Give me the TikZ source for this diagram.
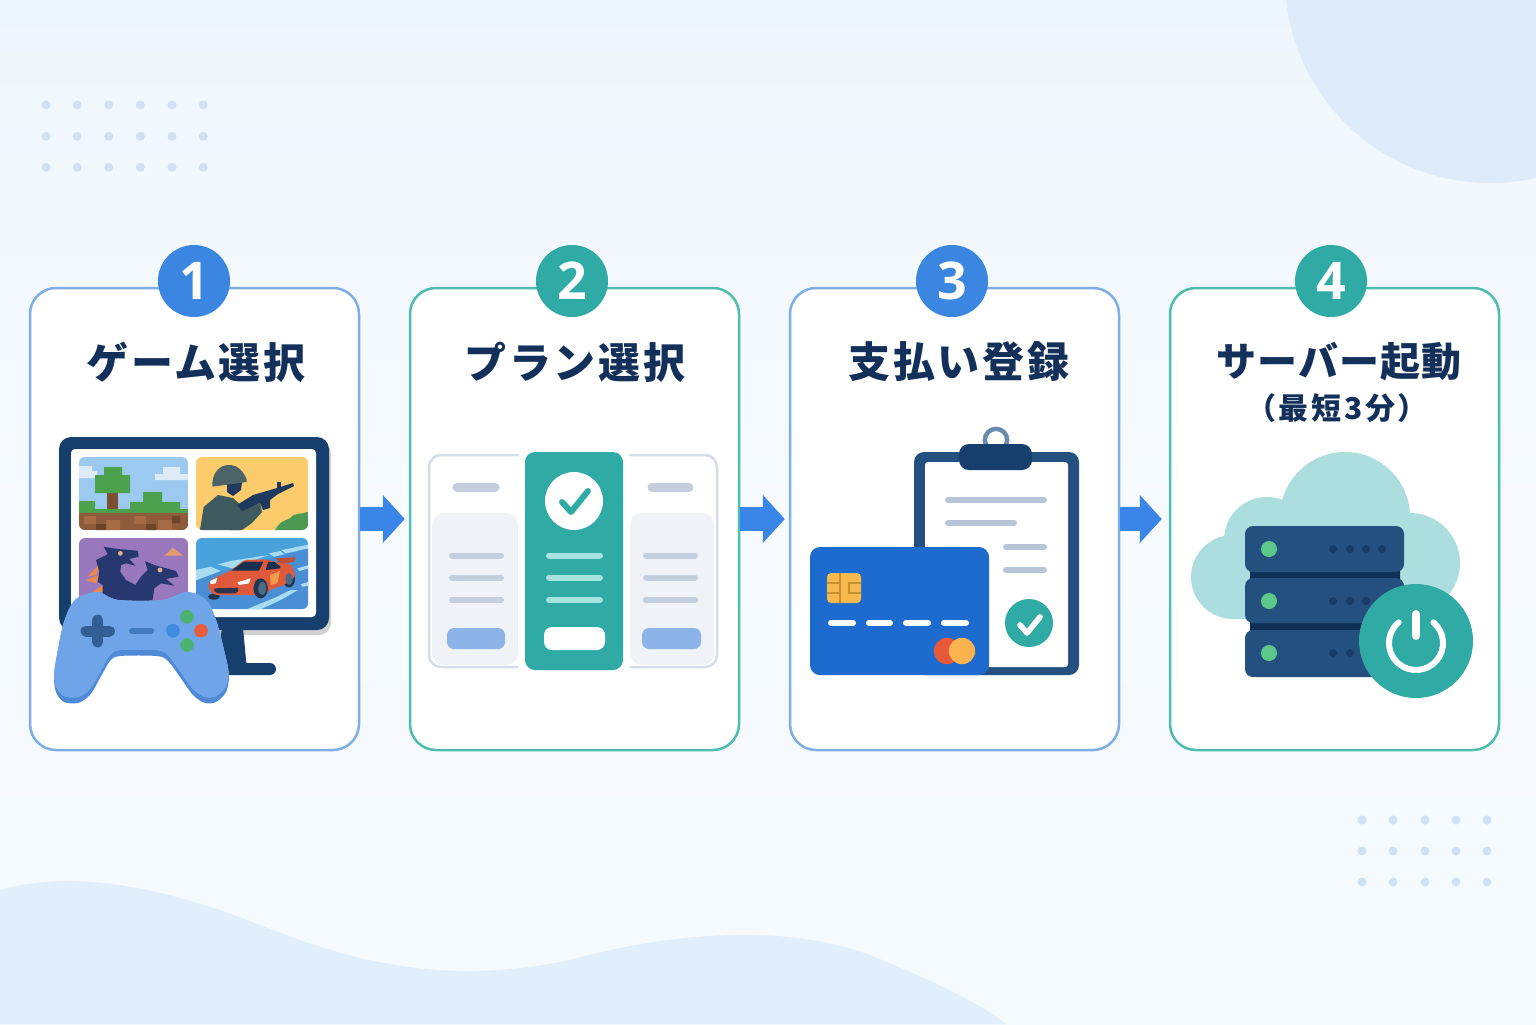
\documentclass[tikz,border=0pt]{standalone}
\usepackage{fontspec}
\setmainfont{Noto Sans CJK JP}
\newfontfamily\digitfont{Open Sans}
\usetikzlibrary{arrows.meta,calc}
\definecolor{bgtop}{HTML}{EEF6FD}
\definecolor{bgmid}{HTML}{F7FBFF}
\definecolor{blob}{HTML}{DDEBFA}
\definecolor{wave}{HTML}{E1EEFB}
\definecolor{speck}{HTML}{CFE1F5}
\definecolor{ink}{HTML}{12305A}
\definecolor{edgeblue}{HTML}{7FAEE6}
\definecolor{edgeteal}{HTML}{4DBDB0}
\definecolor{badgeblue}{HTML}{3B86E0}
\definecolor{badgeteal}{HTML}{2FAAA4}
\definecolor{arrowblue}{HTML}{3A86E8}
\definecolor{navy}{HTML}{173F6E}
\definecolor{slate}{HTML}{24507F}
\definecolor{padlight}{HTML}{6FA5E8}
\definecolor{paddark}{HTML}{4F8AD6}
\definecolor{padhigh}{HTML}{8DBBEF}
\definecolor{mute}{HTML}{C3CFDE}
\definecolor{mutefill}{HTML}{EFF3F8}
\definecolor{softblue}{HTML}{8DB4E8}
\definecolor{cardblue}{HTML}{1E6BD0}
\definecolor{mint}{HTML}{A6E3DE}
\tikzset{
  x=0.5pt,y=-0.5pt,
  hex/.code={\definecolor{hexc}{HTML}{#1}\pgfkeysalso{/tikz/color=hexc}},
  card/.style={draw=#1,fill=white,line width=1.25pt,rounded corners=13pt,
    minimum width=164.5pt,minimum height=231pt,inner sep=0pt},
  badge/.style={circle,fill=#1,text=white,font=\digitfont\fontsize{26}{26}\selectfont\bfseries,
    minimum size=36pt,inner sep=0pt},
  heading/.style={text=ink,font=\fontsize{21}{21}\selectfont\bfseries\addfontfeatures{LetterSpace=6},inner sep=0pt},
  flowarrow/.style={draw=arrowblue,line width=12pt,
    -{Triangle[length=11pt,width=23.5pt]}},
  pill/.style={line cap=round,line width=#1},
  zoomed/.style={shift={#1},x=0.16667pt,y=-0.16667pt},
}
\def\padoutline{plot[smooth cycle,tension=0.5] coordinates{
  (97,592)(118,600)(163,600)(187,592)(206,600)(216,620)(224,650)(229,675)(226,692)(216,702)(205,703)(193,695)
  (180,677)(168,661)(157,656)(120,656)(110,661)(100,678)(90,695)(78,703)(64,702)(56,692)(54,675)(58,650)(64,622)(75,600)}}
\begin{document}
\begin{tikzpicture}
\useasboundingbox (0,0) rectangle (1536,1024);
% page background
\fill[top color=bgtop,bottom color=bgmid] (0,0) rectangle (1536,512);
\fill[top color=bgmid,bottom color=bgmid!70!bgtop] (0,512) rectangle (1536,1024);
\begin{scope}
  \clip (0,0) rectangle (1536,1024);
  \fill[blob] (1490,-22) circle[radius=102.5pt];
  \fill[wave] (0,890) .. controls (70,870) and (160,885) .. (260,925)
    .. controls (360,965) and (450,985) .. (570,960)
    .. controls (680,930) and (790,925) .. (870,955)
    .. controls (930,980) and (975,1000) .. (1006,1024) -- (0,1024) -- cycle;
\end{scope}
% dot grids
\foreach \px in {46,77.3,108.7,140.3,172,203.3}
  \foreach \py in {105,136.3,167.3}
    \fill[speck] (\px,\py) circle[radius=2.25pt];
\foreach \px in {1362,1393,1425,1456,1487}
  \foreach \py in {820,851,882}
    \fill[speck] (\px,\py) circle[radius=2.25pt];

% cards
\node[card=edgeblue] (c1) at (194.5,519) {};
\node[card=edgeteal] (c2) at (574.5,519) {};
\node[card=edgeblue] (c3) at (954.5,519) {};
\node[card=edgeteal] (c4) at (1334.5,519) {};
% connectors between cards
\draw[flowarrow,shorten >=2pt] (c1.east) -- (c2.west);
\draw[flowarrow,shorten >=2pt] (c2.east) -- (c3.west);
\draw[flowarrow,shorten >=3.5pt] (c3.east) -- (c4.west);
% step badges
\node[badge=badgeblue] (b1) at (194,281) {1};
\node[badge=badgeteal] (b2) at (572,281) {2};
\node[badge=badgeblue] (b3) at (952,281) {3};
\node[badge=badgeteal] (b4) at (1331,281) {4};
% headings
\node[heading] (t1) at (196,362) {ゲーム選択};
\node[heading] (t2) at (575,362) {プラン選択};
\node[heading] (t3) at (959,362) {支払い登録};
\node[heading,font=\fontsize{20}{20}\selectfont\bfseries\addfontfeatures{LetterSpace=3}] (t4) at (1339,362) {サーバー起動};
\node[heading,font=\fontsize{15}{15}\selectfont\bfseries\addfontfeatures{LetterSpace=9}] (t5) at (1337,408) {（最短3分）};

% --- monitor ---
\fill[rounded corners=6pt,fill=black!18!white] (61,442) rectangle (331,635);
\fill[navy,rounded corners=3pt] (200,663) rectangle (276,675);
\fill[navy] (222,628) -- (243,628) -- (247,670) -- (215,670) -- cycle;
\fill[navy,rounded corners=6pt] (59,437) rectangle (329,630);
\fill[white,rounded corners=2pt] (71,449) rectangle (316,617);
% tile: block world
\begin{scope}
  \clip[rounded corners=3pt] (79,457) rectangle (188,530);
  \fill[hex=9BC9EF] (79,457) rectangle (188,530);
  \fill[hex=DCEBF6] (79,466) rectangle (92,478) (92,471) rectangle (97,478);
  \fill[hex=DCEBF6] (155,474) rectangle (188,480) (163,467) rectangle (180,474);
  \fill[hex=7A4F31] (107,493) rectangle (118,510);
  \fill[hex=4CA24C] (95,475) rectangle (130,493) (104,467) rectangle (122,475);
  \fill[hex=4CA24C] (143,492) rectangle (162,502) (130,502) rectangle (180,510) (79,501) rectangle (95,510);
  \fill[hex=7FC06A] (180,510) rectangle (188,519);
  \fill[hex=4CA24C] (79,509) rectangle (188,513);
  \fill[hex=8F5B3A] (79,513) rectangle (188,530);
  \fill[hex=A56B45] (84,516) rectangle (96,524) (106,520) rectangle (120,530) (134,516) rectangle (146,524) (158,520) rectangle (172,530);
  \fill[hex=6D4429] (96,524) rectangle (106,530) (146,524) rectangle (156,530) (172,516) rectangle (180,523);
\end{scope}
% tile: soldier
\begin{scope}
  \clip[rounded corners=3pt] (196,457) rectangle (308,530);
  \fill[hex=FCCB6B] (196,457) rectangle (308,530);
  \begin{scope}[zoomed={(30,420)}]
    \fill[hex=4C9A52] (735,330) .. controls (750,305) and (765,300) .. (780,295)
      .. controls (795,275) and (815,285) .. (835,275) -- (835,330) -- cycle;
    \fill[hex=3F5A5F] (510,330) -- (521,261) -- (564,225) -- (609,234) -- (639,261) -- (630,330) -- cycle;
    \fill[hex=1E3A5F] (591,189) -- (636,186) -- (633,210) -- (609,228) -- (591,216) -- cycle;
    \fill[hex=4A6468] (547,189) .. controls (550,155) and (570,135) .. (597,135)
      .. controls (625,135) and (640,155) .. (650,178) -- (650,186) -- (547,200) -- cycle;
    \fill[hex=1E3A5F] (621,255) -- (669,225) -- (741,204) -- (789,189) -- (792,198) -- (744,222)
      -- (720,240) -- (720,264) -- (699,270) -- (690,249) -- (639,276) -- cycle;
    \fill[hex=1E3A5F] (741,186) -- (753,186) -- (753,210) -- (741,210) -- cycle;
    \fill[hex=3F5A5F] (600,291) -- (660,264) -- (690,249) -- (696,276) -- (666,309) -- (636,330) -- (600,330) -- cycle;
  \end{scope}
\end{scope}
% tile: dragons
\begin{scope}
  \clip[rounded corners=3pt] (79,538) rectangle (188,612);
  \fill[hex=9A78BE] (79,538) rectangle (188,612);
  \begin{scope}[zoomed={(76,535)}]
    \fill[hex=E59A70] (265,62) -- (278,50) -- (290,38) -- (322,62) -- cycle;
    \fill[hex=E98B4E] (75,82) -- (35,125) -- (62,120) -- cycle
      (70,120) -- (30,135) -- (60,145) -- cycle
      (85,148) -- (50,170) -- (80,172) -- cycle;
    \fill[hex=26386F] (83,35) -- (125,42) -- (185,47) -- (188,65) -- (160,72) -- (178,92) -- (150,85)
      -- (135,90) -- (133,110) -- (150,135) -- (178,150) -- (195,125) -- (215,105) -- (207,78) -- (235,90)
      -- (300,108) -- (308,125) -- (270,132) -- (295,152) -- (255,145) -- (235,160) -- (225,225) -- (80,225)
      -- (80,150) -- (65,140) -- (70,110) -- (60,75) -- (95,58) -- cycle;
    \fill[hex=E7B08A] (133,55) circle[radius=1.2pt] (252,105) circle[radius=1.2pt];
  \end{scope}
\end{scope}
% tile: racing car
\begin{scope}
  \clip[rounded corners=3pt] (196,538) rectangle (308,609);
  \fill[hex=4AA2DD] (196,538) rectangle (308,609);
  \begin{scope}[zoomed={(194,535)}]
    \fill[hex=4A8FD6] (0,140) -- (80,108) -- (345,40) -- (345,225) -- (0,225) -- cycle;
    \fill[hex=A8DCF0] (0,106) -- (50,95) -- (80,108) -- (0,138) -- cycle
      (72,88) -- (110,78) -- (225,60) -- (190,72) -- (115,100) -- cycle
      (225,55) -- (260,48) -- (270,58) -- (240,65) -- cycle
      (262,45) -- (300,38) -- (310,48) -- (275,55) -- cycle
      (300,37) -- (345,29) -- (345,40) -- (310,47) -- cycle
      (310,100) -- (345,90) -- (345,100) -- (315,108) -- cycle
      (320,148) -- (345,140) -- (345,152) -- (325,155) -- cycle
      (160,222) -- (250,185) -- (290,165) -- (312,165) -- (260,195) -- (195,225) -- cycle;
    \fill[hex=1F3550] (60,185) ellipse[x radius=3pt,y radius=1.5pt];
    \fill[hex=BF4E35] (245,70) -- (305,67) -- (300,80) -- (262,88) -- cycle;
    \fill[hex=1F3550] (285,132) ellipse[x radius=3pt,y radius=4.2pt];
    \fill[hex=E0593A,rounded corners=1.5pt] (42,160) -- (45,140) -- (70,125) -- (110,107) -- (150,75)
      -- (215,73) -- (262,85) -- (292,88) -- (305,125) -- (270,150) -- (225,165) -- (215,180) -- (60,180) -- cycle;
    \fill[hex=17304F] (112,107) -- (150,80) -- (208,80) -- (195,107) -- cycle
      (215,105) -- (222,82) -- (240,80) -- (260,95) -- (258,100) -- cycle;
    \fill[hex=F2994A] (228,120) -- (258,108) -- (250,145) -- (230,150) -- cycle;
    \fill[hex=4A6A85] (285,132) ellipse[x radius=1.8pt,y radius=3pt];
    \fill[hex=1F3550] (200,160) ellipse[x radius=3.6pt,y radius=5pt];
    \fill[hex=4A6A85] (205,160) ellipse[x radius=2pt,y radius=3.3pt];
    \fill[white] (48,138) -- (70,128) -- (65,145) -- (50,147) -- cycle
      (130,142) -- (170,130) -- (165,145) -- (135,150) -- cycle;
    \fill[hex=2C3550,rounded corners=1pt] (58,160) -- (135,158) -- (130,175) -- (65,175) -- cycle;
  \end{scope}
\end{scope}
% --- game pad: dark underside, pale top rim, main face ---
\fill[paddark] \padoutline;
\begin{scope}
  \clip \padoutline;
  \begin{scope}[yshift=3pt]
    \fill[padhigh] \padoutline;
    \clip \padoutline;
    \begin{scope}[yshift=-1.5pt]
      \fill[padlight] \padoutline;
    \end{scope}
  \end{scope}
\end{scope}
\draw[navy!70!padlight,line width=5.5pt,line cap=round] (86,631) -- (109.5,631) (97.7,620) -- (97.7,642);
\draw[pill=3pt,hex=4379BE] (132,631) -- (151,631);
\fill[hex=4CB26F] (187,616.7) circle[radius=3.4pt] (187,645) circle[radius=3.4pt];
\fill[hex=3F8BE0] (173,630.7) circle[radius=3.4pt];
\fill[hex=E85E3C] (201,630.7) circle[radius=3.4pt];

% --- plan comparison ---
\draw[mute!70!white,line width=1.25pt,rounded corners=6pt,fill=white] (429,455) rectangle (717,667);
\fill[mutefill,rounded corners=6pt] (432,513) rectangle (518,665);
\fill[mutefill,rounded corners=6pt] (630,513) rectangle (714,665);
\fill[white,rounded corners=6pt] (518,446) rectangle (630,676);
\fill[badgeteal,rounded corners=5pt] (525,452) rectangle (623,670);
\fill[white] (574,501) circle[radius=14.5pt];
\draw[badgeteal,line width=3pt,line cap=round,line join=round] (562,502) -- (571,512) -- (588,491);
\foreach \py in {555.5,577.5,600} {
  \draw[pill=3pt,mute] (452,\py) -- (501,\py);
  \draw[pill=3pt,mint] (549,\py) -- (600,\py);
  \draw[pill=3pt,mute] (646,\py) -- (695,\py);
}
\draw[pill=4.5pt,mute] (457,487) -- (495,487);
\draw[pill=4.5pt,mute] (652,487) -- (689,487);
\fill[softblue,rounded corners=3.5pt] (447,628) rectangle (505,649);
\fill[softblue,rounded corners=3.5pt] (642,628) rectangle (701,649);
\fill[white,rounded corners=4pt] (544,627) rectangle (605,650);

% --- clipboard and payment card ---
\draw[hex=6A8BAD,line width=2.2pt] (996,440) circle[radius=5.6pt];
\fill[slate,rounded corners=5pt] (914,452) rectangle (1079,675);
\fill[white,rounded corners=1.5pt] (925,462) rectangle (1068,667);
\fill[navy,rounded corners=5pt] (959,444) rectangle (1032,470);
\foreach \ax/\bx/\py in {948/1044/500,948/1014/522.7,1006/1044/547,1006/1044/570}
  \draw[pill=3pt,hex=B7C5D9] (\ax,\py) -- (\bx,\py);
\fill[badgeteal] (1029,623) circle[radius=12pt];
\draw[white,line width=2.8pt,line cap=round,line join=round] (1020,625) -- (1027,633) -- (1040,617);
\fill[cardblue,rounded corners=5pt] (810,547) rectangle (989,675);
\fill[hex=F7B84E,rounded corners=2pt] (827,573) rectangle (861,603);
\draw[hex=C98F2F,line width=0.7pt] (827,583) -- (840,583) (827,593) -- (840,593) (840,573) -- (840,603)
  (861,583) -- (849,583) -- (849,593) -- (861,593);
\foreach \ax/\bx in {831/853,869/890,906/928,944/966}
  \draw[white,pill=3pt] (\ax,623) -- (\bx,623);
\fill[hex=E8583A] (947,651) circle[radius=6.6pt];
\fill[hex=F9B44F] (962,651) circle[radius=6.6pt];

% --- cloud server ---
\fill[hex=ACDEDF] (1345,517) circle[radius=32.5pt] (1267,540) circle[radius=21.5pt]
  (1233,577) circle[radius=21pt] (1410,563) circle[radius=25pt]
  (1233,540) rectangle (1410,619);
\fill[hex=0F2F57] (1250,568) rectangle (1400,582) (1250,620) rectangle (1400,634);
\foreach \ay/\by/\py in {526/572/549,578/623/601,630/677/653} {
  \fill[slate,rounded corners=4pt] (1245,\ay) rectangle (1404,\by);
  \fill[hex=5CC98A] (1269,\py) circle[radius=4pt];
  \foreach \px in {1333,1350,1366,1382}
    \fill[hex=173C66] (\px,\py) circle[radius=2pt];
}
\fill[badgeteal] (1416,641) circle[radius=28.5pt];
\draw[white,line width=3pt,line cap=round] (1416,643) ++(50:13.5pt) arc[start angle=50,end angle=-230,radius=13.5pt];
\draw[white,line width=4pt,line cap=round] (1416,614) -- (1416,636);
\end{tikzpicture}
\end{document}
